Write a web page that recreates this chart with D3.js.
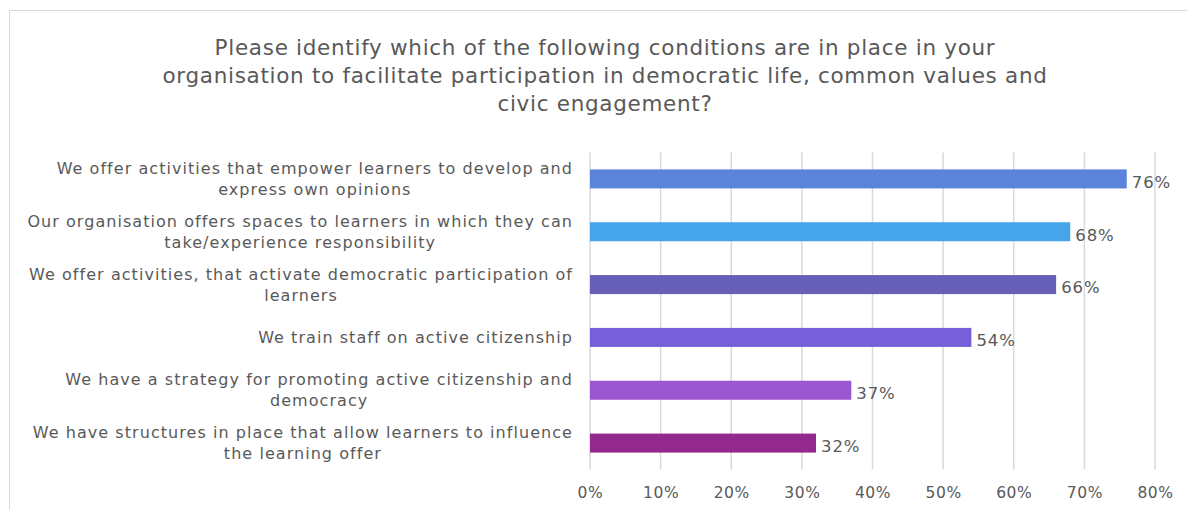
<!DOCTYPE html>
<html>
<head>
<meta charset="utf-8">
<script src="https://cdn.jsdelivr.net/npm/d3@7"></script>
<style>
  html, body { margin: 0; padding: 0; background: #fff; }
  svg { display: block; }
  text { font-family: "DejaVu Sans", sans-serif; fill: #595959; }
</style>
</head>
<body>
<svg id="chart" width="1187" height="510"></svg>
<script>
// Survey answers, top to bottom
const categories = [
  ["We offer activities that empower learners to develop and", "express own opinions"],
  ["Our organisation offers spaces to learners in which they can", "take/experience responsibility"],
  ["We offer activities, that activate democratic participation of", "learners"],
  ["We train staff on active citizenship"],
  ["We have a strategy for promoting active citizenship and", "democracy"],
  ["We have structures in place that allow learners to influence", "the learning offer"]
];
const shares = [0.76, 0.68, 0.66, 0.54, 0.37, 0.32];
const barColors = ["#5a83d9", "#45a5ea", "#675fb8", "#775fd9", "#9b57d0", "#93298c"];
const tickValues = [0, 0.1, 0.2, 0.3, 0.4, 0.5, 0.6, 0.7, 0.8];
const titleLines = [
  "Please identify which of the following conditions are in place in your",
  "organisation to facilitate participation in democratic life, common values and",
  "civic engagement?"
];

const svg = d3.select("#chart");

// outer chart frame
svg.append("rect")
  .attr("x", 9.5).attr("y", 10.5)
  .attr("width", 1200).attr("height", 520)
  .attr("fill", "none").attr("stroke", "#d9d9d9").attr("stroke-width", 1);

// title
svg.append("text")
  .attr("text-anchor", "middle")
  .attr("font-size", 21.5)
  .attr("letter-spacing", 0.7)
  .selectAll("tspan").data(titleLines).join("tspan")
  .attr("x", 605)
  .attr("y", (d, i) => 55 + i * 28)
  .text(d => d);

const plot = { left: 590, right: 1155, top: 152.5, bottom: 469.5 };

const x = d3.scaleLinear().domain([0, 0.8]).range([plot.left, plot.right]);
const y = d3.scaleBand().domain(d3.range(categories.length))
  .range([plot.top, plot.bottom]).paddingInner(0.64).paddingOuter(0.32);

// vertical gridlines
svg.append("g")
  .selectAll("line").data(tickValues).join("line")
  .attr("x1", d => x(d)).attr("x2", d => x(d))
  .attr("y1", plot.top).attr("y2", plot.bottom)
  .attr("stroke", "#d9d9d9").attr("stroke-width", 1.5);

// x axis labels
const xAxis = d3.axisBottom(x).tickValues(tickValues)
  .tickFormat(d3.format(".0%")).tickSize(0).tickPadding(0);
const gx = svg.append("g").attr("transform", `translate(0,${plot.bottom + 17})`).call(xAxis);
gx.select(".domain").remove();
gx.selectAll("text").attr("font-size", 15.5).attr("dy", "0.71em")
  .attr("letter-spacing", 0.6)
  .style("font-family", '"DejaVu Sans", sans-serif').attr("fill", "#595959");

// bars
svg.append("g")
  .selectAll("rect").data(shares).join("rect")
  .attr("x", x(0))
  .attr("y", (d, i) => y(i))
  .attr("width", d => x(d) - x(0))
  .attr("height", y.bandwidth())
  .attr("fill", (d, i) => barColors[i]);

// value labels
svg.append("g")
  .selectAll("text").data(shares).join("text")
  .attr("x", d => x(d) + 5)
  .attr("y", (d, i) => y(i) + y.bandwidth() / 2 + 3)
  .attr("dy", "0.35em")
  .attr("font-size", 16.5)
  .attr("letter-spacing", 0.9)
  .attr("fill", "#404040")
  .text(d3.format(".0%"));

// category labels: block right-aligned, lines centred inside the block
const labelRight = 573;
const lineH = 21;
categories.forEach((lines, i) => {
  const g = svg.append("g");
  const cy = y(i) + y.bandwidth() / 2;
  const texts = lines.map((s, j) => g.append("text")
    .attr("font-size", 16)
    .attr("letter-spacing", 1.05)
    .attr("text-anchor", "middle")
    .attr("y", cy + (j - (lines.length - 1) / 2) * lineH)
    .attr("dy", "0.35em")
    .text(s));
  const w = d3.max(texts, t => t.node().getComputedTextLength());
  texts.forEach(t => t.attr("x", labelRight - w / 2));
});
</script>
</body>
</html>
